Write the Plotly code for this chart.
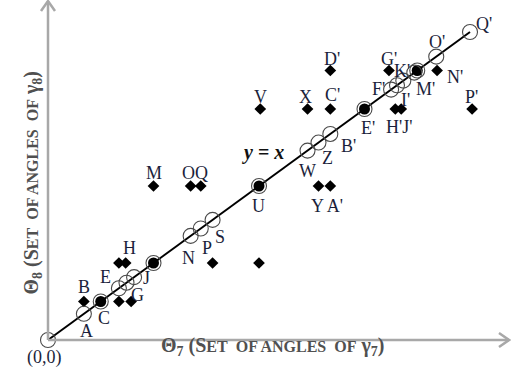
import plotly.graph_objects as go

# ---- data (theta_7 on x, theta_8 on y; scaled so that Q' = 100) ----
# points lying on y = x drawn as open circles
line_vals = [0, 8.5, 16.8, 18.6, 20.4, 33.8, 36.2, 39.0, 61.5, 64.1, 66.9,
             81.3, 82.7, 84.2, 86.8, 92.0, 100]
# points on y = x drawn as filled circles
filled_vals = [12.5, 25, 50, 75, 87.5]
# off-line points (diamonds)
diam_x = [8.5, 16.8, 19.7, 16.8, 18.4, 25, 33.8, 36.2, 39.0, 50, 50.3, 61.5,
          66.9, 66.9, 64.1, 66.9, 80.8, 92.2, 82.3, 83.7, 100.5]
diam_y = [12.5, 12.5, 12.5, 25, 25, 50, 50, 50, 25, 25, 75, 75,
          75, 87.5, 50, 50, 87.5, 87.5, 75, 75, 75]

# point labels and where they sit
label_text = ["(0,0)", "A", "B", "C", "E", "H", "J", "G", "M", "OQ", "N", "P", "S",
              "U", "V", "X", "C'", "D'", "W", "Z", "B'", "Y A'", "E'", "H'J'",
              "F'", "I'", "G'", "K'", "M'", "O'", "N'", "P'", "Q'"]
label_x = [-0.9, 9.2, 8.5, 13.2, 13.7, 19.4, 23.3, 21.3, 25.1, 34.8, 33.2, 37.7, 40.8,
           49.9, 50.4, 61.1, 67.3, 67.3, 61.6, 66.3, 71.1, 66.1, 75.8, 83.2,
           78.2, 84.8, 80.8, 83.9, 89.5, 92.2, 96.4, 100.4, 103.3]
label_y = [-5.6, 2.9, 17.2, 7.1, 20.5, 30.0, 20.0, 14.5, 54.3, 54.3, 26.6, 30.0, 33.6,
           43.5, 79.0, 79.0, 79.5, 91.3, 55.0, 59.0, 63.0, 43.5, 68.8, 69.0,
           81.5, 78.0, 91.3, 87.5, 81.5, 96.8, 85.5, 79.0, 102.7]

# ---- pixel mapping of the plot area ----
W, H = 511, 386
ox, oy = 48, 340          # origin pixel
kx, ky = 4.22, 3.08       # pixels per data unit
xr = [-ox / kx, (W - ox) / kx]
yr = [(oy - H) / ky, oy / ky]

fig = go.Figure()

# y = x line
fig.add_trace(go.Scatter(x=[min(line_vals), max(line_vals)],
                         y=[min(line_vals), max(line_vals)],
                         mode="lines", line=dict(color="black", width=2),
                         hoverinfo="skip", showlegend=False))
# diamonds
fig.add_trace(go.Scatter(x=diam_x, y=diam_y, mode="markers",
                         marker=dict(symbol="diamond", size=9, color="black"),
                         showlegend=False))
# filled circles
fig.add_trace(go.Scatter(x=filled_vals, y=filled_vals, mode="markers",
                         marker=dict(symbol="circle", size=11, color="black"),
                         showlegend=False))
# open circles (including rings around filled ones)
ring_vals = line_vals + filled_vals
fig.add_trace(go.Scatter(x=ring_vals, y=ring_vals, mode="markers",
                         marker=dict(symbol="circle-open", size=15, color="#4a4a4a",
                                     line=dict(width=1.1)),
                         showlegend=False))

# axes drawn as grey lines with open chevron arrowheads
axis_col = "#a8a8a8"
x_end = (509 - ox) / kx
y_end = (oy - 1) / ky
ahx, ahy = 10 / kx, 7 / ky       # arrowhead arm extents along / across x axis
avx, avy = 7 / kx, 10 / ky       # arrowhead arm extents for y axis
shapes = [
    dict(type="line", xref="x", yref="y", x0=0, y0=0, x1=x_end, y1=0,
         line=dict(color=axis_col, width=2.5)),
    dict(type="line", xref="x", yref="y", x0=0, y0=0, x1=0, y1=y_end,
         line=dict(color=axis_col, width=2.5)),
    dict(type="path", xref="x", yref="y",
         path=f"M {x_end - ahx},{ahy} L {x_end},0 L {x_end - ahx},{-ahy}",
         line=dict(color=axis_col, width=2.5)),
    dict(type="path", xref="x", yref="y",
         path=f"M {-avx},{y_end - avy} L 0,{y_end} L {avx},{y_end - avy}",
         line=dict(color=axis_col, width=2.5)),
]

annotations = []
for t, x, y in zip(label_text, label_x, label_y):
    annotations.append(dict(x=x, y=y, xref="x", yref="y", text=t, showarrow=False,
                            font=dict(family="Liberation Serif", size=18,
                                      color="#1b1f3b")))

annotations.append(dict(x=51.0, y=61.0, xref="x", yref="y",
                        text="<b><i>y</i> = <i>x</i></b>", showarrow=False,
                        font=dict(family="Liberation Serif", size=20, color="#111")))

sc = "<span style='font-size:16px'>"
xtitle = ("Θ<sub>7</sub> (S" + sc + "ET&nbsp; OF ANGLES&nbsp; OF</span> γ<sub>7</sub>)")
ytitle = ("Θ<sub>8</sub> (S" + sc + "ET&nbsp; OF ANGLES&nbsp; OF</span> γ<sub>8</sub>)")
annotations.append(dict(x=273 / W, y=1 - 361 / H, xref="paper", yref="paper",
                        text="<b>" + xtitle + "</b>", showarrow=False,
                        font=dict(family="Liberation Serif", size=20, color="#505050")))
annotations.append(dict(x=17 / W, y=1 - 183 / H, xref="paper", yref="paper",
                        text="<b>" + ytitle + "</b>", showarrow=False, textangle=-90,
                        font=dict(family="Liberation Serif", size=20, color="#505050")))

fig.update_layout(
    width=W, height=H,
    margin=dict(l=0, r=0, t=0, b=0),
    paper_bgcolor="white", plot_bgcolor="white",
    xaxis=dict(range=xr, visible=False, showgrid=False, zeroline=False),
    yaxis=dict(range=yr, visible=False, showgrid=False, zeroline=False),
    shapes=shapes,
    annotations=annotations,
    showlegend=False,
)

fig.write_html("out.html", config={"displayModeBar": False},
               post_script="document.body.style.margin='0px';")
